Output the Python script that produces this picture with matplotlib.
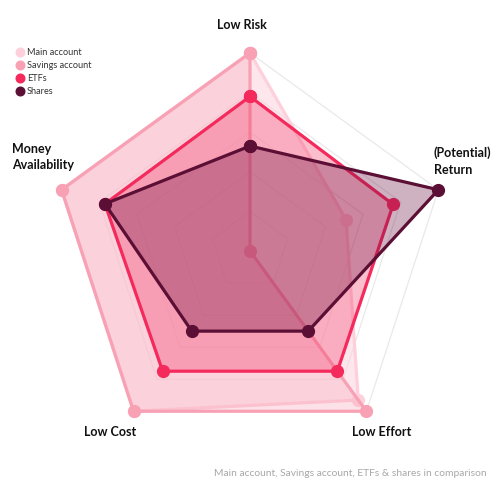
import numpy as np
import matplotlib.pyplot as plt
from matplotlib.lines import Line2D

plt.rcParams['font.family'] = ['Lato', 'DejaVu Sans']

# Data (scale 0-10)
categories = ['Low Risk', '(Potential)\nReturn', 'Low Effort', 'Low Cost', 'Money\nAvailability']
series_names = ['Main account', 'Savings account', 'ETFs', 'Shares']
main_account = [10, 5.1, 9.3, 10, 10]
savings_account = [10, 0, 10, 10, 10]
etfs = [7.8, 7.6, 7.5, 7.5, 7.7]
shares = [5.3, 10, 5, 5, 7.7]
grid_levels = [2, 4, 6, 8, 10]

line_colors = ['#fdd0db', '#f8a1b4', '#f42a5c', '#5c0f35']
fill_colors = ['#fdd0db', '#f8a1b4', '#f42a5c', '#6a1040']
fill_alphas = [0.5, 0.3, 0.3, 0.32]

theta = np.linspace(0, 2 * np.pi, len(categories), endpoint=False)
theta_c = np.append(theta, theta[0])

fig = plt.figure(figsize=(5, 5), dpi=100)
ax = fig.add_axes([0.084, 0.082, 0.832, 0.832], projection='polar')
ax.set_theta_zero_location('N')
ax.set_theta_direction(-1)
ax.set_ylim(0, 10.5)
ax.grid(False)
ax.spines['polar'].set_visible(False)
ax.set_xticks([])
ax.set_yticks([])
ax.patch.set_alpha(0)

# pentagon grid
for lv in grid_levels:
    ax.plot(theta_c, [lv] * len(theta_c), color='#e9e9e9', lw=0.9, zorder=0)

all_series = [main_account, savings_account, etfs, shares]
for i, vals in enumerate(all_series):
    v = np.append(vals, vals[0])
    ax.fill(theta_c, v, color=fill_colors[i], alpha=fill_alphas[i], lw=0, zorder=1 + i * 2)
    ax.plot(theta_c, v, color=line_colors[i], lw=2.3, marker='o', markersize=8.5,
            clip_on=False, zorder=2 + i * 2)

# axis labels
def fpos(x, y):
    return x / 500, 1 - y / 500

lab_kw = dict(fontsize=9, fontweight='bold', color='#111111', linespacing=1.45)
fig.text(*fpos(242, 25), categories[0], ha='center', va='center', **lab_kw)
fig.text(*fpos(434, 161), categories[1], ha='left', va='center', **lab_kw)
fig.text(*fpos(382, 432), categories[2], ha='center', va='center', **lab_kw)
fig.text(*fpos(110, 432), categories[3], ha='center', va='center', **lab_kw)
fig.text(*fpos(12, 157), categories[4], ha='left', va='center', **lab_kw)

# legend
handles = [Line2D([], [], ls='none', marker='o', markersize=6.2, color=c) for c in line_colors]
fig.legend(handles, series_names, loc='upper left', bbox_to_anchor=fpos(15.5, 48),
           frameon=False, fontsize=6.6, handlelength=0.95, handletextpad=0.3,
           labelspacing=0.45, borderpad=0, borderaxespad=0, labelcolor='#333333')

fig.text(*fpos(487, 474), 'Main account, Savings account, ETFs & shares in comparison',
         ha='right', va='center', fontsize=7.4, color='#a8a8a8')

fig.savefig('out.png', dpi=100)
